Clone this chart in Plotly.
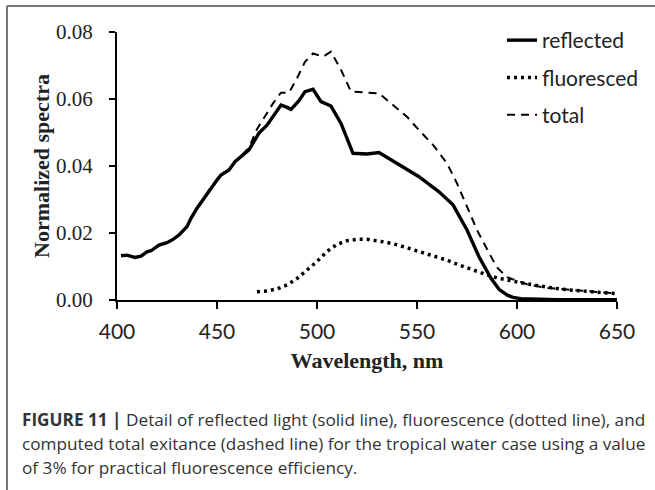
import plotly.graph_objects as go

# ---------------- data ----------------
reflected_nm = [402, 405, 409, 412, 415, 417, 421, 425, 428, 431, 435, 437, 440, 443, 446,
                450, 452, 456, 459, 462, 466, 468, 471, 475, 478, 482, 485, 487, 491, 494,
                498, 502, 507, 512, 518, 525, 531, 540, 551, 561, 568, 575, 581, 587, 591,
                595, 598, 602, 610, 620, 630, 640, 650]
reflected = [0.0132, 0.0134, 0.0127, 0.0131, 0.0144, 0.0147, 0.0164, 0.0171, 0.0181, 0.0194,
             0.0219, 0.0244, 0.0274, 0.0299, 0.0328, 0.0358, 0.0373, 0.0388, 0.0413, 0.0428,
             0.0448, 0.0468, 0.0498, 0.0522, 0.0547, 0.0582, 0.0575, 0.0569, 0.0595, 0.0622,
             0.0629, 0.0592, 0.0579, 0.0527, 0.0438, 0.0436, 0.0440, 0.0408, 0.0368, 0.0323,
             0.0284, 0.0209, 0.0129, 0.0065, 0.0032, 0.0015, 0.0008, 0.0004, 0.0002, 0.0001,
             0.0001, 0.0001, 0.0001]

fluoresced_nm = [470, 475, 480, 485, 490, 495, 500, 505, 510, 515, 520, 525, 530, 535, 540,
                 545, 550, 555, 560, 565, 570, 575, 580, 585, 590, 595, 600, 610, 620, 630,
                 640, 650]
fluoresced = [0.0025, 0.0027, 0.0033, 0.0045, 0.0064, 0.0088, 0.0115, 0.0145, 0.0166, 0.0177,
              0.0181, 0.0181, 0.0177, 0.0172, 0.0165, 0.0156, 0.0148, 0.0139, 0.0130, 0.0119,
              0.0107, 0.0096, 0.0086, 0.0075, 0.0066, 0.0059, 0.0054, 0.0043, 0.0034, 0.0028,
              0.0023, 0.0019]

total_nm = [402, 405, 409, 412, 415, 417, 421, 425, 428, 431, 435, 437, 440, 443, 446,
            450, 452, 456, 459, 462, 466, 470, 475, 478, 482, 486, 490, 494, 498, 503,
            507, 512, 517, 525, 531, 538, 545, 551, 558, 565, 570, 575, 580, 585, 590,
            595, 600, 605, 615, 630, 640, 650]
total = [0.0132, 0.0134, 0.0127, 0.0131, 0.0144, 0.0147, 0.0164, 0.0171, 0.0181, 0.0194,
         0.0219, 0.0244, 0.0274, 0.0299, 0.0328, 0.0358, 0.0373, 0.0388, 0.0413, 0.0430,
         0.0455, 0.0510, 0.0557, 0.0587, 0.0619, 0.0619, 0.0662, 0.0711, 0.0736, 0.0726,
         0.0741, 0.0687, 0.0622, 0.0619, 0.0617, 0.0582, 0.0547, 0.0507, 0.0463, 0.0408,
         0.0348, 0.0279, 0.0209, 0.0152, 0.0097, 0.0068, 0.0057, 0.0047, 0.0036, 0.0028,
         0.0024, 0.0020]

x_ticks = [400, 450, 500, 550, 600, 650]
y_ticks = [0.00, 0.02, 0.04, 0.06, 0.08]
y_tick_labels = ["0.00", "0.02", "0.04", "0.06", "0.08"]

caption_lines = [
    "<b>FIGURE 11 |</b> Detail of reflected light (solid line), fluorescence (dotted line), and",
    "computed total exitance (dashed line) for the tropical water case using a value",
    "of 3% for practical fluorescence efficiency.",
]

# ---------------- figure ----------------
W, H = 655, 490
L, R, T, B = 117, 38, 32, 190
pw, ph = W - L - R, H - T - B


def px(xp):
    return (xp - L) / pw


def py(yp):
    return (H - B - yp) / ph


fig = go.Figure()
fig.add_trace(go.Scatter(x=reflected_nm, y=reflected, mode="lines", name="reflected",
                         legendgroup="a",
                         line=dict(color="black", width=3.4)))
fig.add_trace(go.Scatter(x=fluoresced_nm, y=fluoresced, mode="lines", name="fluoresced",
                         legendgroup="b",
                         line=dict(color="black", width=3.5, dash="3px,4px")))
fig.add_trace(go.Scatter(x=total_nm, y=total, mode="lines", name="total",
                         legendgroup="c",
                         line=dict(color="black", width=2, dash="8px,6px")))

fig.update_layout(
    width=W, height=H,
    margin=dict(l=L, r=R, t=T, b=B, autoexpand=False),
    paper_bgcolor="white", plot_bgcolor="white",
    showlegend=True,
    legend=dict(x=px(502), y=py(20), xanchor="left", yanchor="top",
                font=dict(family="Lato", size=21, color="#222"),
                bgcolor="rgba(0,0,0,0)", itemwidth=30, tracegroupgap=7),
    xaxis=dict(range=[400, 650], tickvals=x_ticks, showgrid=False, zeroline=False,
               showline=True, linecolor="black", linewidth=2,
               ticks="outside", ticklen=7, tickwidth=2, tickcolor="black",
               ticklabelstandoff=5,
               tickfont=dict(family="Lato", size=21, color="#222"),
               title=dict(text="<b>Wavelength, nm</b>", standoff=10,
                          font=dict(family="Liberation Serif", size=22, color="#222"))),
    yaxis=dict(range=[0, 0.08], tickvals=y_ticks, ticktext=y_tick_labels, showgrid=False,
               zeroline=False, showline=True, linecolor="black", linewidth=2,
               ticks="outside", ticklen=6, tickwidth=2, tickcolor="black",
               ticklabelstandoff=12,
               tickfont=dict(family="Liberation Serif", size=21, color="#222"),
               title=dict(text="<b>Normalized spectra</b>", standoff=0,
                          font=dict(family="Liberation Serif", size=22, color="#222"))),
)

# frame lines around the figure panel
frame = dict(color="#777", width=2)
fig.add_shape(type="line", xref="paper", yref="paper",
              x0=px(7), x1=px(655), y0=py(6), y1=py(6), line=frame)
fig.add_shape(type="line", xref="paper", yref="paper",
              x0=px(7), x1=px(7), y0=py(6), y1=py(490), line=frame)

for i, line in enumerate(caption_lines):
    fig.add_annotation(text=line, xref="paper", yref="paper", x=px(20), y=py(419 + 24 * i),
                       xanchor="left", yanchor="middle", align="left", showarrow=False,
                       font=dict(family="Open Sans", size=17.2, color="#333"))

fig.write_html("out.html")
